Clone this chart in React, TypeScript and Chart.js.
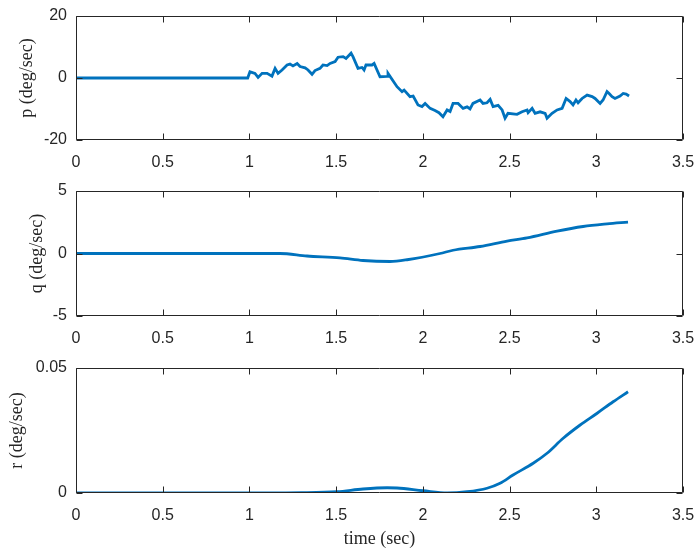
import React, { useEffect, useRef } from "react";
import { Chart, registerables } from "chart.js";

Chart.register(...registerables);

// ---- data ----
const pTime = [0, 0.99, 1.003, 1.032, 1.05, 1.073, 1.102, 1.13, 1.148, 1.165, 1.188, 1.217, 1.234, 1.251, 1.275, 1.292, 1.321, 1.338, 1.361, 1.378, 1.407, 1.424, 1.448, 1.465, 1.494, 1.511, 1.54, 1.557, 1.586, 1.597, 1.626, 1.649, 1.661, 1.672, 1.707, 1.719, 1.753, 1.794, 1.799, 1.851, 1.88, 1.892, 1.926, 1.944, 1.972, 1.995, 2.013, 2.042, 2.07, 2.093, 2.116, 2.14, 2.157, 2.174, 2.203, 2.232, 2.255, 2.272, 2.289, 2.33, 2.347, 2.37, 2.388, 2.405, 2.434, 2.457, 2.474, 2.491, 2.543, 2.572, 2.601, 2.607, 2.63, 2.647, 2.676, 2.705, 2.716, 2.745, 2.774, 2.803, 2.826, 2.849, 2.866, 2.883, 2.895, 2.918, 2.947, 2.976, 2.993, 3.022, 3.039, 3.062, 3.074, 3.091, 3.108, 3.137, 3.155, 3.172, 3.189];
const pValues = [0, 0, 2, 1.5, 0.2, 1.5, 1.5, 0.6, 3.1, 1.5, 2.6, 4.2, 4.5, 3.9, 4.7, 3.7, 3.3, 2.6, 1.2, 2.4, 3.1, 4.2, 4.0, 4.7, 5.3, 6.7, 6.9, 6.3, 8.0, 6.9, 3.1, 3.4, 2.6, 4.2, 4.2, 4.7, 0.4, 0.5, 1.5, -2.8, -4.4, -3.9, -6, -5.8, -8.7, -9.2, -8.2, -9.8, -10.5, -11.2, -12.5, -10.3, -10.8, -8.2, -8.2, -9.8, -9.3, -10, -8.2, -7.1, -8.2, -8, -6.9, -9.2, -8.8, -10.3, -13, -11.4, -11.7, -10.9, -10.3, -11.2, -9.8, -11.4, -10.9, -11.4, -13, -11.4, -10.3, -9.8, -6.6, -7.6, -8.7, -7.1, -8, -6.6, -5.5, -6, -6.6, -8.2, -7.1, -4.4, -5, -6, -6.6, -5.8, -5, -5.2, -5.8];

const qTime = [0, 1.0, 1.176, 1.332, 1.522, 1.655, 1.811, 1.909, 2.099, 2.174, 2.33, 2.486, 2.601, 2.774, 2.924, 3.062, 3.183];
const qValues = [0, 0, 0, -0.2, -0.35, -0.56, -0.64, -0.5, 0, 0.26, 0.56, 0.99, 1.25, 1.79, 2.16, 2.37, 2.51];

const rTime = [0, 1.0, 1.3, 1.505, 1.655, 1.794, 1.851, 2.001, 2.14, 2.255, 2.37, 2.445, 2.52, 2.636, 2.716, 2.809, 2.907, 3.005, 3.097, 3.183];
const rValues = [0, 0, 0.0001, 0.0005, 0.0016, 0.0021, 0.002, 0.0009, 0, 0.0005, 0.0019, 0.0039, 0.0072, 0.0119, 0.0159, 0.0219, 0.0272, 0.0319, 0.0365, 0.0405];

const xTicks = [0, 0.5, 1, 1.5, 2, 2.5, 3, 3.5];
const pTicks = [-20, 0, 20];
const qTicks = [-5, 0, 5];
const rTicks = [0, 0.05];

const xLabel = "time (sec)";
const pLabel = "p (deg/sec)";
const qLabel = "q (deg/sec)";
const rLabel = "r (deg/sec)";

// ---- styles ----
const LINE = "#0072BD";
const AXIS = "#262626";
const TICK_FONT = { family: "'Liberation Sans', Arial, sans-serif", size: 16 };
const TITLE_FONT = { family: "'Liberation Serif', 'Times New Roman', serif", size: 18 };
const INSET = 24; // canvas space above each plot area

const boxPlugin = {
  id: "matlabBox",
  afterDraw(chart: any) {
    const { ctx, chartArea: a, scales } = chart;
    const L = Math.round(a.left) + 0.5;
    const R = Math.round(a.right) - 0.5;
    const T = Math.round(a.top) + 0.5;
    const B = Math.round(a.bottom) - 0.5;
    const tl = 6;
    ctx.save();
    ctx.strokeStyle = AXIS;
    ctx.lineWidth = 1;
    ctx.beginPath();
    ctx.rect(L, T, R - L, B - T);
    scales.x.ticks.forEach((t: any) => {
      const x = Math.round(scales.x.getPixelForValue(t.value)) + 0.5;
      ctx.moveTo(x, B);
      ctx.lineTo(x, B - tl);
      ctx.moveTo(x, T);
      ctx.lineTo(x, T + tl);
    });
    scales.y.ticks.forEach((t: any) => {
      const y = Math.round(scales.y.getPixelForValue(t.value)) + 0.5;
      ctx.moveTo(L, y);
      ctx.lineTo(L + tl, y);
      ctx.moveTo(R, y);
      ctx.lineTo(R - tl, y);
    });
    ctx.stroke();
    ctx.restore();
  },
};

type Spec = {
  plotTop: number; // page coords
  plotBottom: number;
  canvasBottom: number;
  xAxisH: number;
  times: number[];
  values: number[];
  yTicks: number[];
  yLabel: string;
  yTitlePad: number;
  smooth: boolean;
  showXTitle: boolean;
};

function SubPlot({ s }: { s: Spec }) {
  const ref = useRef<HTMLCanvasElement>(null);
  const top = s.plotTop - INSET;
  const height = s.canvasBottom - top;
  useEffect(() => {
    const data = s.times.map((t, i) => ({ x: t, y: s.values[i] }));
    const ymin = s.yTicks[0];
    const ymax = s.yTicks[s.yTicks.length - 1];
    const chart = new Chart(ref.current as HTMLCanvasElement, {
      type: "line",
      data: {
        datasets: [
          {
            data,
            borderColor: LINE,
            borderWidth: 2.8,
            pointRadius: 0,
            tension: s.smooth ? 0.4 : 0,
            cubicInterpolationMode: s.smooth ? "monotone" : "default",
            fill: false,
          } as any,
        ],
      },
      options: {
        animation: false,
        responsive: false,
        devicePixelRatio: 1,
        layout: {
          padding: {
            top: INSET,
            left: 0,
            right: 14,
            bottom: s.canvasBottom - s.plotBottom - s.xAxisH,
          },
        },
        plugins: { legend: { display: false }, tooltip: { enabled: false } },
        scales: {
          x: {
            type: "linear",
            min: 0,
            max: 3.5,
            afterBuildTicks: (sc: any) => {
              sc.ticks = xTicks.map((v) => ({ value: v }));
            },
            afterFit: (sc: any) => {
              sc.height = s.xAxisH;
            },
            grid: { display: false, drawTicks: true, tickLength: 13 },
            border: { display: false },
            ticks: {
              color: AXIS,
              font: TICK_FONT,
              padding: 0,
              maxRotation: 0,
              autoSkip: false,
              callback: (v: any) => String(Math.round(Number(v) * 100) / 100),
            },
            title: {
              display: s.showXTitle,
              text: xLabel,
              color: AXIS,
              font: TITLE_FONT,
              padding: { top: 0, bottom: 0 },
            },
          },
          y: {
            type: "linear",
            min: ymin,
            max: ymax,
            afterBuildTicks: (sc: any) => {
              sc.ticks = s.yTicks.map((v) => ({ value: v }));
            },
            afterFit: (sc: any) => {
              sc.width = 76;
            },
            grid: { display: false, drawTicks: false },
            border: { display: false },
            ticks: {
              color: AXIS,
              font: TICK_FONT,
              padding: 9,
              autoSkip: false,
              callback: (v: any) => String(Math.round(Number(v) * 1000) / 1000),
            },
            title: {
              display: true,
              text: s.yLabel,
              color: AXIS,
              font: TITLE_FONT,
              padding: { top: s.yTitlePad, bottom: 0 },
            },
          },
        },
      } as any,
      plugins: [boxPlugin],
    });
    return () => chart.destroy();
  }, []);
  return (
    <canvas
      ref={ref}
      width={697}
      height={height}
      style={{ position: "absolute", left: 0, top, width: 697, height }}
    />
  );
}

const specs: Spec[] = [
  { plotTop: 16, plotBottom: 140, canvasBottom: 178, xAxisH: 32, times: pTime, values: pValues, yTicks: pTicks, yLabel: pLabel, yTitlePad: 16, smooth: false, showXTitle: false },
  { plotTop: 191, plotBottom: 316, canvasBottom: 352, xAxisH: 32, times: qTime, values: qValues, yTicks: qTicks, yLabel: qLabel, yTitlePad: 26, smooth: true, showXTitle: false },
  { plotTop: 368, plotBottom: 493, canvasBottom: 550, xAxisH: 57, times: rTime, values: rValues, yTicks: rTicks, yLabel: rLabel, yTitlePad: 6, smooth: true, showXTitle: true },
];

export default function App() {
  return (
    <div style={{ position: "absolute", left: 0, top: 0, width: 697, height: 550, background: "#fff", overflow: "hidden" }}>
      {specs.map((s, i) => (
        <SubPlot key={i} s={s} />
      ))}
    </div>
  );
}
